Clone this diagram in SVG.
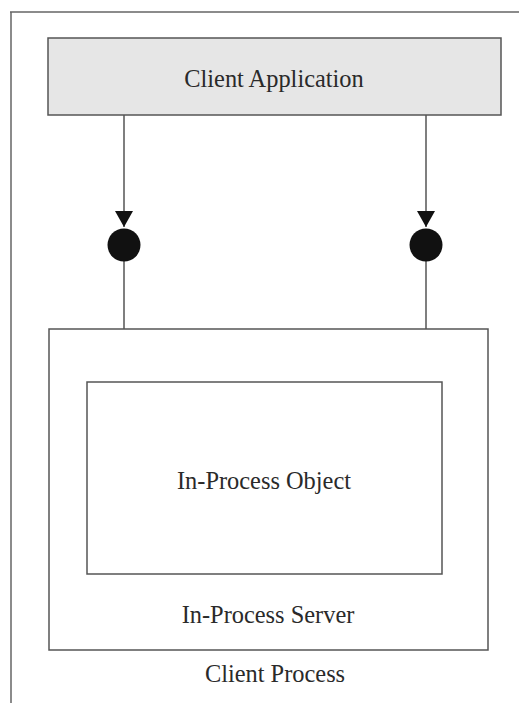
<svg xmlns="http://www.w3.org/2000/svg" width="519" height="703" viewBox="0 0 519 703">
  <style>
    .box { fill: #ffffff; stroke: #555555; stroke-width: 1.5; }
    .app { fill: #e6e6e6; stroke: #555555; stroke-width: 1.5; }
    .frame { fill: none; stroke: #666666; stroke-width: 1.5; }
    .wire { stroke: #555555; stroke-width: 1.5; fill: none; }
    .port { fill: #111111; }
    .label { font-family: "Liberation Serif", "Times New Roman", serif; font-size: 24.4px; fill: #2a2a2a; text-anchor: middle; }
  </style>
  <defs>
    <marker id="arrow" markerWidth="18" markerHeight="19" refX="16" refY="9" orient="auto" markerUnits="userSpaceOnUse">
      <path d="M0,0 L16,9 L0,18 Z" fill="#111111"/>
    </marker>
  </defs>

  <rect width="519" height="703" fill="#ffffff"/>

  <!-- page frame: top and left edges -->
  <path class="frame" d="M10,12 H519 M11,12 V703"/>

  <g id="client-application">
    <rect class="app" x="48" y="38" width="453" height="77"/>
    <text class="label" x="274" y="87">Client Application</text>
  </g>

  <g id="in-process-server">
    <rect class="box" x="49" y="329" width="439" height="321"/>
    <text class="label" x="268" y="623">In-Process Server</text>
  </g>

  <g id="in-process-object">
    <rect class="box" x="87" y="382" width="355" height="192"/>
    <text class="label" x="264" y="489">In-Process Object</text>
  </g>

  <g id="client-process">
    <text class="label" x="275" y="682">Client Process</text>
  </g>

  <g id="connectors">
    <line class="wire" x1="124" y1="115" x2="124" y2="227" marker-end="url(#arrow)"/>
    <line class="wire" x1="124" y1="245" x2="124" y2="329"/>
    <circle class="port" cx="124" cy="245" r="16.5"/>
    <line class="wire" x1="426" y1="115" x2="426" y2="227" marker-end="url(#arrow)"/>
    <line class="wire" x1="426" y1="245" x2="426" y2="329"/>
    <circle class="port" cx="426" cy="245" r="16.5"/>
  </g>
</svg>
